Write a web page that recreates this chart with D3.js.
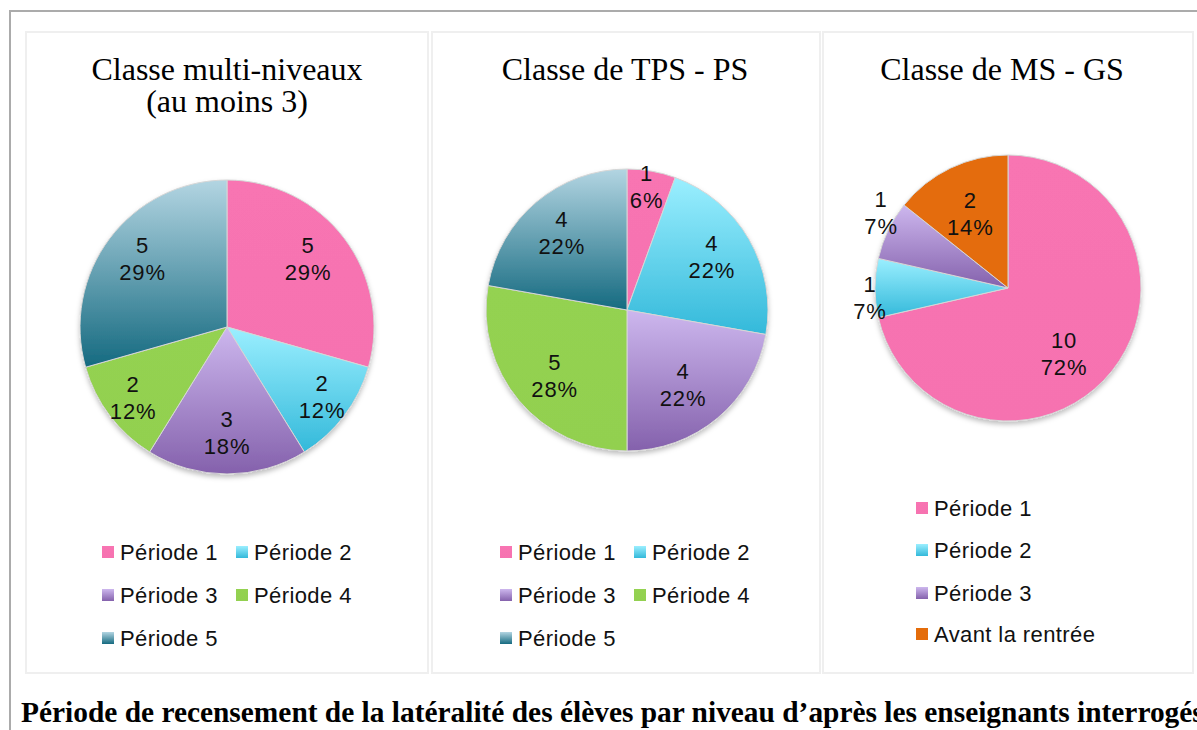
<!DOCTYPE html>
<html>
<head>
<meta charset="utf-8">
<script src="https://cdn.jsdelivr.net/npm/d3@7"></script>
<style>
  html, body { margin: 0; padding: 0; background: #fff; }
  svg { display: block; }
</style>
</head>
<body>
<svg id="chart" width="1197" height="730"></svg>
<script>
// ---------- DATA ----------
const categoriesAll = ["Période 1", "Période 2", "Période 3", "Période 4", "Période 5", "Avant la rentrée"];

const multiTitle = ["Classe multi-niveaux", "(au moins 3)"];
const multiCategories = ["Période 1", "Période 2", "Période 3", "Période 4", "Période 5"];
const multiValues = [5, 2, 3, 2, 5];
const multiPercents = ["29%", "12%", "18%", "12%", "29%"];

const tpsTitle = ["Classe de TPS - PS"];
const tpsCategories = ["Période 1", "Période 2", "Période 3", "Période 4", "Période 5"];
const tpsValues = [1, 4, 4, 5, 4];
const tpsPercents = ["6%", "22%", "22%", "28%", "22%"];

const msTitle = ["Classe de MS - GS"];
const msCategories = ["Période 1", "Période 2", "Période 3", "Avant la rentrée"];
const msValues = [10, 1, 1, 2];
const msPercents = ["72%", "7%", "7%", "14%"];

const captionText = "Période de recensement de la latéralité des élèves par niveau d’après les enseignants interrogés";

// ---------- STYLE / LAYOUT ----------
const fills = {
  "Période 1": { top: "#f874b2", bottom: "#f672b0" },
  "Période 2": { top: "#9befff", bottom: "#33b9da" },
  "Période 3": { top: "#cdb7ee", bottom: "#8461ac" },
  "Période 4": { top: "#94d251", bottom: "#92d050" },
  "Période 5": { top: "#b3d5e2", bottom: "#156a80" },
  "Avant la rentrée": { top: "#e46c0a", bottom: "#e46c0a" }
};

const charts = [
  { title: multiTitle, cats: multiCategories, vals: multiValues, pcts: multiPercents,
    panel: { x: 26, y: 32, w: 402, h: 641 }, titleX: 227, cx: 227, cy: 327, r: 147,
    labelR: [0.72, 0.80, 0.72, 0.80, 0.74], labelShift: [-3, -1, 0, 0, 2],
    legend: { cols: [102, 236], rows: [552, 595, 638], ncol: 2 } },
  { title: tpsTitle, cats: tpsCategories, vals: tpsValues, pcts: tpsPercents,
    panel: { x: 432, y: 32, w: 388, h: 641 }, titleX: 625, cx: 627, cy: 310, r: 141,
    labelR: [0.89, 0.71, 0.66, 0.69, 0.72], labelShift: [-1, -2, 3, -2, 0],
    legend: { cols: [500, 634], rows: [552, 595, 638], ncol: 2 } },
  { title: msTitle, cats: msCategories, vals: msValues, pcts: msPercents,
    panel: { x: 823, y: 32, w: 370, h: 641 }, titleX: 1002, cx: 1008, cy: 288, r: 133,
    labelR: [0.65, 1.04, 1.11, 0.63], labelShift: [11, -4, 5, -1],
    legend: { cols: [916], rows: [508, 550, 593, 634], ncol: 1 } }
];

const svg = d3.select("#chart");
const defs = svg.append("defs");

categoriesAll.forEach((c, i) => {
  const g = defs.append("linearGradient")
    .attr("id", "grad" + i)
    .attr("x1", 0).attr("y1", 0).attr("x2", 0).attr("y2", 1);
  g.append("stop").attr("offset", "0%").attr("stop-color", fills[c].top);
  g.append("stop").attr("offset", "100%").attr("stop-color", fills[c].bottom);
});
const gradId = c => "url(#grad" + categoriesAll.indexOf(c) + ")";

const shadow = defs.append("filter").attr("id", "shadow")
  .attr("x", "-10%").attr("y", "-10%").attr("width", "120%").attr("height", "125%");
shadow.append("feDropShadow").attr("dx", 0).attr("dy", 3).attr("stdDeviation", 2.5)
  .attr("flood-color", "#000").attr("flood-opacity", 0.25);

// outer frame
svg.append("line").attr("x1", 10).attr("x2", 10).attr("y1", 11).attr("y2", 730)
  .attr("stroke", "#ababab").attr("stroke-width", 2);
svg.append("line").attr("x1", 9).attr("x2", 1197).attr("y1", 11).attr("y2", 11)
  .attr("stroke", "#ababab").attr("stroke-width", 2);

const labelFont = "'Liberation Sans', Arial, Helvetica, sans-serif";

charts.forEach(ch => {
  const g = svg.append("g");
  g.append("rect")
    .attr("x", ch.panel.x).attr("y", ch.panel.y)
    .attr("width", ch.panel.w).attr("height", ch.panel.h)
    .attr("fill", "#fff").attr("stroke", "#efefef").attr("stroke-width", 2);

  g.append("text")
    .attr("x", ch.titleX).attr("y", 80)
    .attr("text-anchor", "middle")
    .attr("font-family", "'Liberation Serif', 'Times New Roman', serif")
    .attr("font-size", 32)
    .attr("fill", "#000")
    .selectAll("tspan").data(ch.title).join("tspan")
    .attr("x", ch.titleX).attr("dy", (d, i) => i === 0 ? 0 : 32)
    .text(d => d);

  const pie = d3.pie().sort(null).value(d => d.v);
  const data = ch.cats.map((c, i) => ({ c, v: ch.vals[i], p: ch.pcts[i], lr: ch.labelR[i], ls: ch.labelShift[i] }));
  const arcs = pie(data);
  const arc = d3.arc().innerRadius(0).outerRadius(ch.r);

  const pg = g.append("g").attr("transform", `translate(${ch.cx},${ch.cy})`);
  const sg = pg.append("g").attr("filter", "url(#shadow)");
  sg.selectAll("path").data(arcs).join("path")
    .attr("d", arc)
    .attr("fill", d => gradId(d.data.c))
    .attr("stroke", "#d6d6d6")
    .attr("stroke-width", 1);

  const lbl = pg.selectAll("text.lbl").data(arcs).join("text")
    .attr("class", "lbl")
    .attr("text-anchor", "middle")
    .attr("font-family", labelFont)
    .attr("font-size", 22)
    .attr("letter-spacing", 0.9)
    .attr("fill", "#111");
  lbl.each(function(d) {
    const rr = ch.r * d.data.lr;
    const shift = d.data.ls * Math.PI / 180;
    const la = d3.arc().innerRadius(rr).outerRadius(rr);
    const [lx, ly] = la.centroid({ startAngle: d.startAngle + shift, endAngle: d.endAngle + shift });
    const t = d3.select(this);
    t.append("tspan").attr("x", lx).attr("y", ly - 5.5).text(d.data.v);
    t.append("tspan").attr("x", lx).attr("y", ly + 21.5).text(d.data.p);
  });

  const lg = g.append("g");
  ch.cats.forEach((c, i) => {
    const col = i % ch.legend.ncol;
    const row = Math.floor(i / ch.legend.ncol);
    const x = ch.legend.cols[col];
    const y = ch.legend.rows[row];
    lg.append("rect").attr("x", x).attr("y", y - 6).attr("width", 12).attr("height", 12)
      .attr("fill", gradId(c));
    lg.append("text").attr("x", x + 18).attr("y", y + 8)
      .attr("font-family", labelFont).attr("font-size", 22)
      .attr("letter-spacing", 0.4)
      .attr("fill", "#111").text(c);
  });
});

svg.append("text")
  .attr("x", 21).attr("y", 722)
  .attr("font-family", "'Liberation Serif', 'Times New Roman', serif")
  .attr("font-weight", "bold")
  .attr("font-size", 29.4)
  .attr("fill", "#000")
  .text(captionText);
</script>
</body>
</html>
